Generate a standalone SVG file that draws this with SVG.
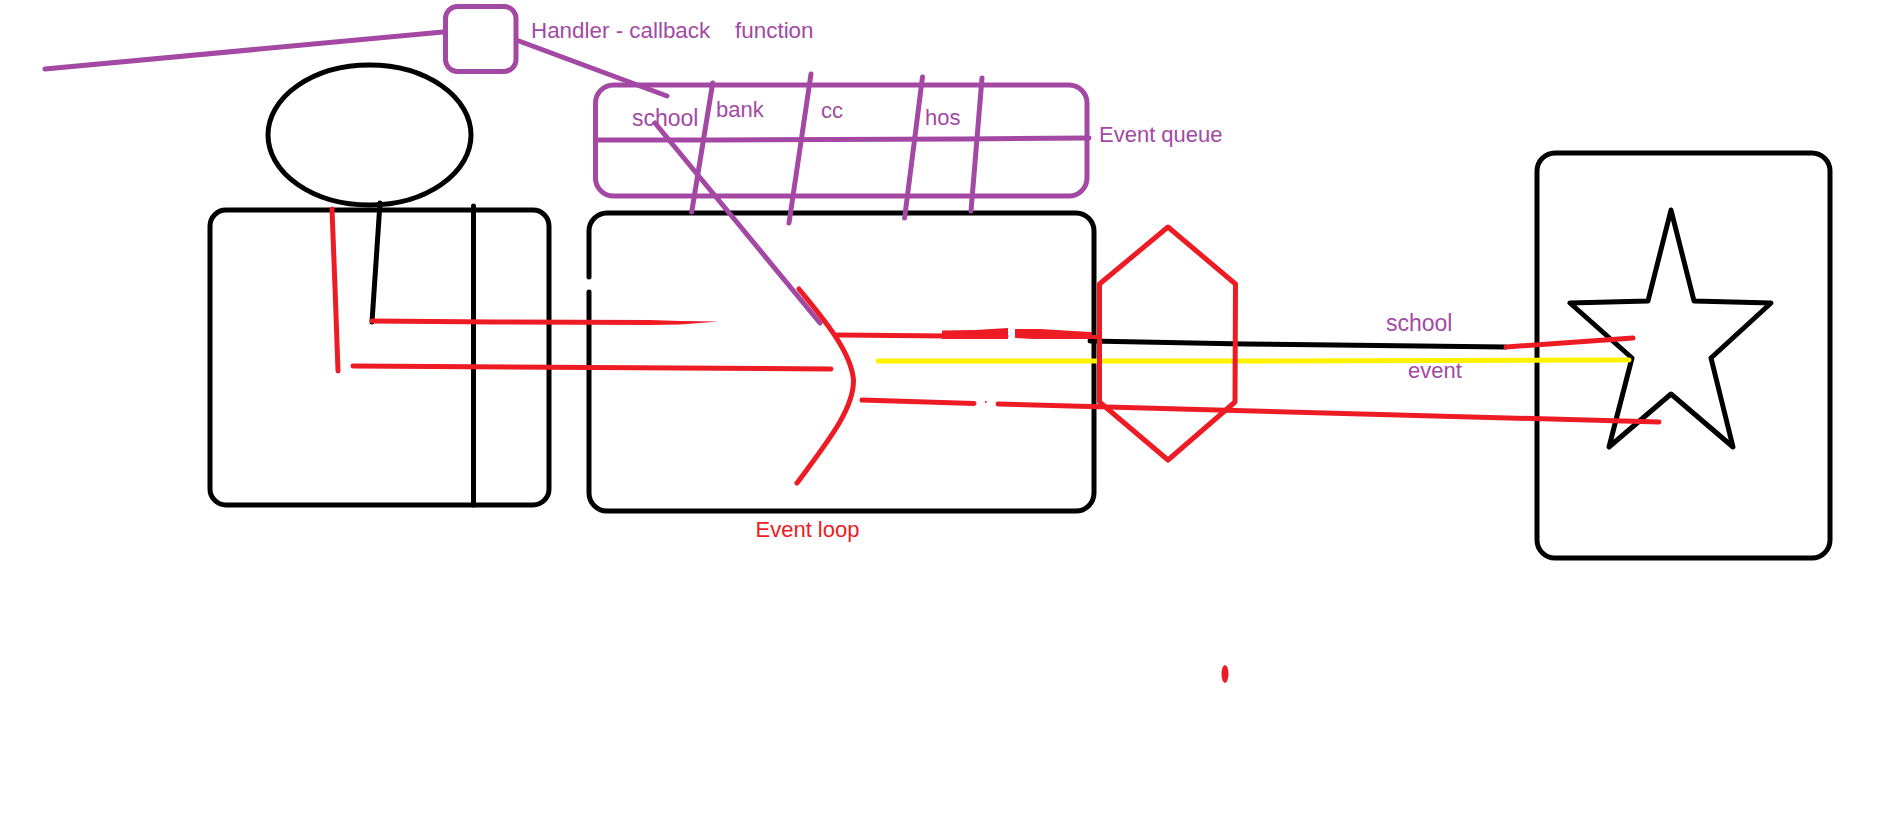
<svg xmlns="http://www.w3.org/2000/svg" width="1898" height="834" viewBox="0 0 1898 834">
<style>
.k{fill:none;stroke:#000;stroke-width:5;stroke-linecap:round;stroke-linejoin:round}
.p{fill:none;stroke:#A349A4;stroke-width:5;stroke-linecap:round;stroke-linejoin:round}
.r{fill:none;stroke:#ED1C24;stroke-width:5;stroke-linecap:round;stroke-linejoin:round}
.y{fill:none;stroke:#FFF200;stroke-width:5;stroke-linecap:round}
.f{fill:#ED1C24;stroke:none}
text{font-family:"Liberation Sans",Arial,sans-serif;font-size:22px;fill:#A349A4;white-space:pre}
text.w{font-size:22.4px}
text.s{font-size:23px}
text.rt{fill:#ED1C24}
</style>
<rect width="1898" height="834" fill="#fff"/>
<g id="head"><ellipse class="k" cx="369.5" cy="135" rx="101.5" ry="70"/></g>
<g id="client">
<rect class="k" x="210" y="210" width="339" height="295" rx="16"/>
<path class="k" d="M473.5 206V505"/>
</g>
<g id="event-loop-box">
<path class="k" d="M589 277V231a18 18 0 0 1 18-18H1076a18 18 0 0 1 18 18V493a18 18 0 0 1-18 18H607a18 18 0 0 1-18-18V292"/>
</g>
<g id="server-box">
<rect class="k" x="1537" y="153" width="293" height="405" rx="18"/>
</g>
<g id="star">
<path class="k" d="M1671 210L1694 301L1771 303L1711 358L1733 447L1671 394L1609 447L1632 358L1570 303L1648 301Z"/>
</g>
<g id="handler">
<rect class="p" x="445.5" y="6.5" width="70.5" height="65" rx="12"/>
<text class="w" x="531" y="38" xml:space="preserve">Handler - callback    function</text>
</g>
<g id="event-queue">
<rect class="p" x="595.5" y="85" width="491.5" height="111" rx="18"/>
<path class="p" d="M596 140L718 140L964 139L1089 138"/>
<text class="s" x="632" y="126">school</text>
<text x="716" y="117">bank</text>
<text x="821" y="118">cc</text>
<text x="925" y="125">hos</text>
<text x="1099" y="142">Event queue</text>
</g>
<g id="connectors">
<path class="p" d="M45 69L443 32"/>
<path class="p" d="M519 41L667 96"/>
<path class="p" d="M712.7 83L691.7 212"/>
<path class="p" d="M811 74L789 223"/>
<path class="p" d="M922.5 77L904.6 218"/>
<path class="p" d="M982 78L971 211"/>
<path class="p" d="M655 123L820 323"/>
<path class="k" d="M380 203L372 322"/>
<path class="r" d="M332 209L335 287L338 371"/>
<path class="r" d="M372 321L495 322L650 322.5"/>
<polygon class="f" points="650,320 680,321 719,321.5 680,324.5 650,325"/>
<path class="r" d="M353 366L831 369"/>
<path class="r" d="M799 289C820 315 851 350 853.5 380C854 410 825 445 797 483"/>
<path class="k" d="M1090 341L1245 344L1506 347"/>
<path class="r" d="M1506 347L1633 338"/>
<path class="y" d="M878 361L1254 361L1629 360"/>
<path class="r" d="M837 335L1006 336.5"/>
<polygon class="f" points="942,330.5 975,330 1008,328 1008,339 942,339"/>
<polygon class="f" points="1015,329 1040,329 1073,331 1092,332 1092,335 1102,335 1102,339 1033,339 1015,338"/>
<path class="r" d="M862 400L974 403.5"/>
<path class="r" d="M998 404L1659 422"/>
<rect class="f" x="985" y="401" width="1.5" height="2"/>
</g>
<g id="hexagon">
<path class="r" d="M1168 227L1235.5 284L1235 402L1168 460L1099.5 402L1099.5 284Z"/>
</g>
<g id="labels">
<text class="rt" x="755.5" y="537">Event loop</text>
<text class="s" x="1386" y="331">school</text>
<text x="1408" y="378">event</text>
</g>
<g id="dot"><ellipse class="f" cx="1225" cy="674" rx="3.5" ry="9"/></g>
</svg>
